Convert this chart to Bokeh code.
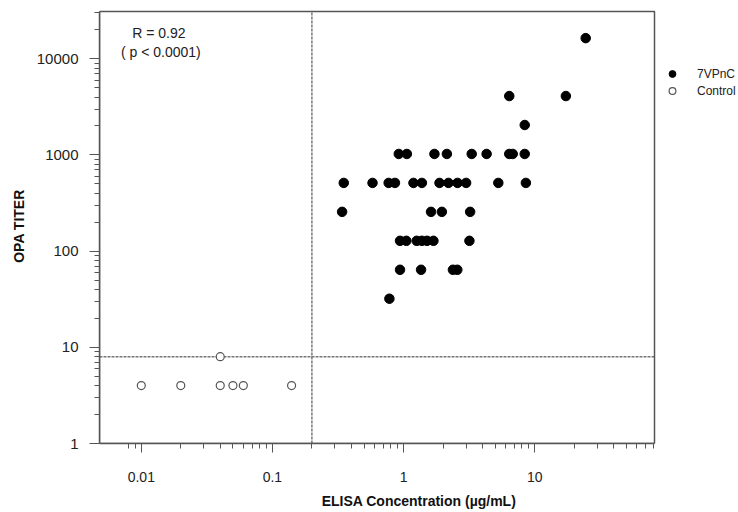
import math
from bokeh.plotting import figure
from bokeh.models import (FixedTicker, CustomJSTickFormatter, Label,
                          Legend, LegendItem, Range1d, BoxAnnotation)
from bokeh.embed import file_html
from bokeh.resources import INLINE

# ---- data ----
vpnc_elisa = [24.5,
              6.4, 17.3,
              8.4,
              0.92, 1.06, 1.72, 2.14, 3.31, 4.3, 6.4, 6.8, 8.4,
              0.35, 0.58, 0.77, 0.86, 1.19, 1.38, 1.88, 2.2, 2.58, 3.0, 5.28, 8.57,
              0.34, 1.62, 1.96, 3.22,
              0.94, 1.05, 1.26, 1.38, 1.51, 1.69, 3.18,
              0.94, 1.36, 2.38, 2.57,
              0.78]
vpnc_titer = [16384,
              4096, 4096,
              2048,
              1024, 1024, 1024, 1024, 1024, 1024, 1024, 1024, 1024,
              512, 512, 512, 512, 512, 512, 512, 512, 512, 512, 512, 512,
              256, 256, 256, 256,
              128, 128, 128, 128, 128, 128, 128,
              64, 64, 64, 64,
              32]
control_elisa = [0.01, 0.02, 0.04, 0.05, 0.06, 0.14, 0.04]
control_titer = [4, 4, 4, 4, 4, 4, 8]

x_major = [0.01, 0.1, 1, 10]
x_minor = [0.008, 0.009, 0.02, 0.03, 0.04, 0.05, 0.06, 0.07, 0.08, 0.09,
           0.2, 0.3, 0.4, 0.5, 0.6, 0.7, 0.8, 0.9,
           2, 3, 4, 5, 6, 7, 8, 9, 20, 30, 40, 50, 60, 70, 80]
y_major = [1, 10, 100, 1000, 10000]
y_minor = [m * d for d in [1, 10, 100, 1000] for m in range(2, 10)] + [20000, 30000]

elisa_cutoff = 0.2
titer_cutoff = 8

# axis box limits (the drawn frame)
x_lo, x_hi = 0.0048, 82
y_lo, y_hi = 1, 31000

FONT = "Liberation Sans"

# the plotting area is extended to the right (room for the legend) and a
# little upwards; the visible frame is drawn as a box at the axis limits
W, H = 738, 512
left, right_frame, top_box, bottom = 99, 654, 11, 443
top_frame = 8
px_per_dec_x = (right_frame - left) / (math.log10(x_hi) - math.log10(x_lo))
x_view_hi = 10 ** (math.log10(x_hi) + (W - right_frame) / px_per_dec_x)
px_per_dec_y = (bottom - top_box) / (math.log10(y_hi) - math.log10(y_lo))
y_view_hi = 10 ** (math.log10(y_hi) + (top_box - top_frame) / px_per_dec_y)

p = figure(width=W, height=H, x_axis_type="log", y_axis_type="log",
           x_range=Range1d(x_lo, x_view_hi), y_range=Range1d(y_lo, y_view_hi),
           output_backend="svg", toolbar_location=None,
           min_border_left=left, min_border_right=0,
           min_border_top=top_frame, min_border_bottom=H - bottom)

p.xgrid.visible = False
p.ygrid.visible = False
p.outline_line_color = None
p.background_fill_color = "white"
p.border_fill_color = "white"

fmt = CustomJSTickFormatter(code="return tick.toString();")
p.xaxis.ticker = FixedTicker(ticks=x_major, minor_ticks=x_minor)
p.yaxis.ticker = FixedTicker(ticks=y_major, minor_ticks=y_minor)
p.xaxis.formatter = fmt
p.yaxis.formatter = fmt
p.xaxis.bounds = (x_lo, x_hi)
p.yaxis.bounds = (y_lo, y_hi)

for ax in (p.xaxis[0], p.yaxis[0]):
    ax.axis_line_color = "#555555"
    ax.axis_line_width = 1.5
    ax.major_tick_line_color = "#555555"
    ax.minor_tick_line_color = "#555555"
    ax.major_tick_in = 0
    ax.minor_tick_out = 5
    ax.minor_tick_in = 0
    ax.major_label_text_font = FONT
    ax.major_label_text_color = "#222222"
    ax.axis_label_text_font = FONT
    ax.axis_label_text_font_size = "14px"
    ax.axis_label_text_font_style = "bold"
    ax.axis_label_text_color = "#111111"

p.xaxis.major_tick_out = 9
p.yaxis.major_tick_out = 10
p.xaxis.major_label_text_font_size = "14px"
p.yaxis.major_label_text_font_size = "15px"

p.xaxis.axis_label = "ELISA Concentration (\u00b5g/mL)"
p.yaxis.axis_label = "OPA TITER"
p.xaxis.major_label_standoff = 19
p.xaxis.axis_label_standoff = 8
p.yaxis.major_label_standoff = 11
p.yaxis.axis_label_standoff = 7

# reference (cut-off) lines
p.segment(x0=[elisa_cutoff], x1=[elisa_cutoff], y0=[y_lo], y1=[y_hi],
          line_color="#777777", line_width=1.5, line_dash="3 1")
p.segment(x0=[x_lo], x1=[x_hi], y0=[titer_cutoff], y1=[titer_cutoff],
          line_color="#777777", line_width=1.5, line_dash="3 1")

r1 = p.scatter(vpnc_elisa, vpnc_titer, marker="circle", size=9.5,
               fill_color="black", line_color="black")
r2 = p.scatter(control_elisa, control_titer, marker="circle", size=8,
               fill_color="white", line_color="#555555", line_width=1.2)

# visible frame box
p.add_layout(BoxAnnotation(left=x_lo, right=x_hi, bottom=y_lo, top=y_hi,
                           fill_alpha=0, line_alpha=1.0, line_color="#555555",
                           line_width=1.5))

legend = Legend(items=[LegendItem(label="7VPnC", renderers=[r1]),
                       LegendItem(label="Control", renderers=[r2])],
                location=(right_frame - left, bottom - 99), orientation="vertical",
                background_fill_alpha=0, border_line_color=None,
                padding=0, margin=0, spacing=0,
                glyph_width=36, glyph_height=17, label_height=16,
                label_standoff=7, label_text_font=FONT,
                label_text_font_size="12px", label_text_color="#222222")
p.add_layout(legend)

p.add_layout(Label(x=0.0136, y=18460, text="R = 0.92", text_align="center",
                   text_baseline="middle", text_font=FONT, text_font_size="14px",
                   text_color="#222222"))
p.add_layout(Label(x=0.0141, y=11730, text="( p < 0.0001)", text_align="center",
                   text_baseline="middle", text_font=FONT, text_font_size="14px",
                   text_color="#222222"))

open("out.html", "w").write(file_html(p, INLINE))
